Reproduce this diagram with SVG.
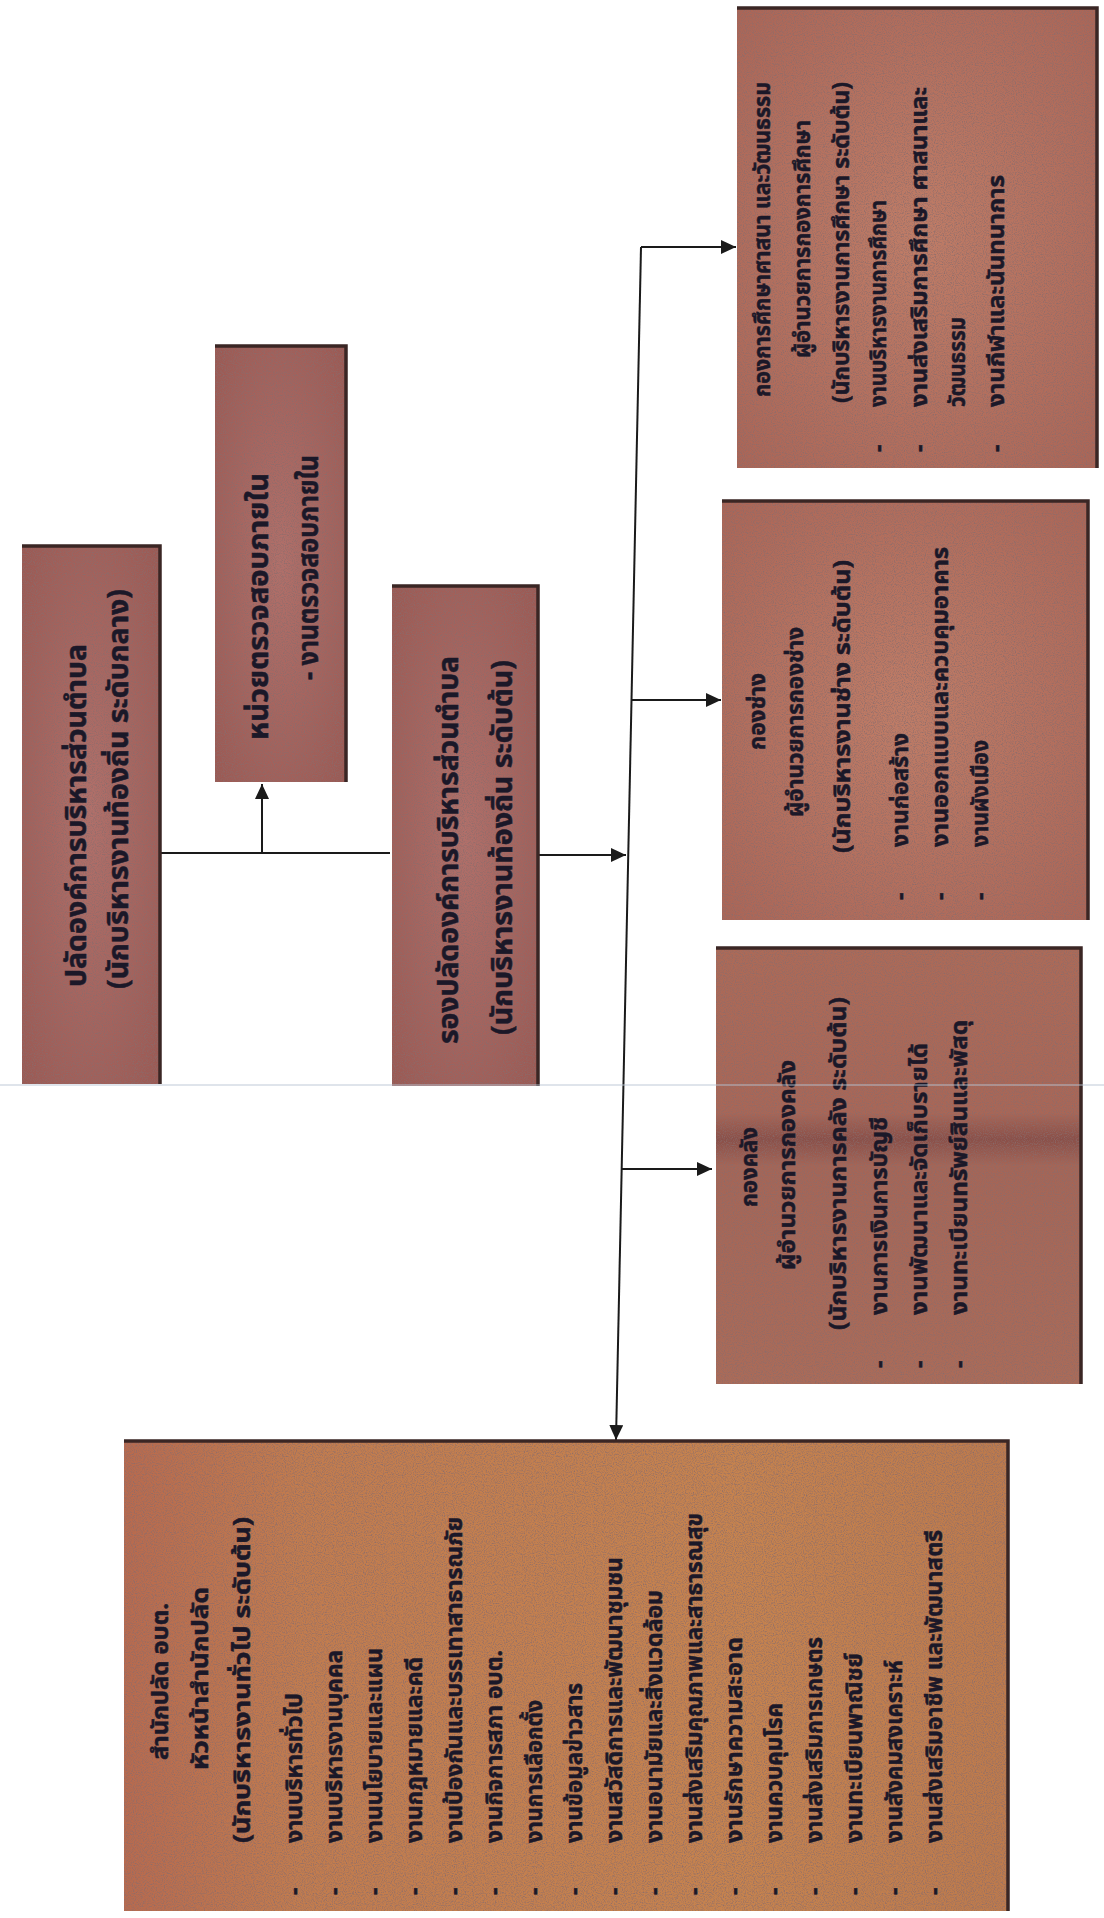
<svg xmlns="http://www.w3.org/2000/svg" width="1104" height="1918" viewBox="0 0 1104 1918">
<defs>
<style>
.t{font-family:'Noto Sans Thai','Noto Sans',sans-serif;font-weight:bold;fill:#1b1828;stroke:#1b1828;stroke-width:0.5}
.h{font-size:28px}
.s{font-size:23px}
.edge{stroke:#3a2624;stroke-width:3.5;fill:none}
.cn{stroke:#1a1a1a;stroke-width:2;fill:none}
</style>
<marker id="ah" markerUnits="userSpaceOnUse" markerWidth="15" markerHeight="14" refX="15" refY="7" orient="auto">
<path d="M0,0 L15,7 L0,14 z" fill="#1a1a1a"/>
</marker>
<filter id="grain" x="0" y="0" width="100%" height="100%">
<feTurbulence type="fractalNoise" baseFrequency="0.9" numOctaves="2" seed="3" result="n"/>
<feColorMatrix in="n" type="matrix" values="0 0 0 0 0.25  0 0 0 0 0.15  0 0 0 0 0.15  0 0 0 2 -0.85" result="m"/>
<feComposite in="m" in2="SourceGraphic" operator="in"/>
</filter>
<radialGradient id="gRed" cx="0.5" cy="0.5" r="0.7">
<stop offset="0" stop-color="#b1706a"/>
<stop offset="1" stop-color="#9b5953"/>
</radialGradient>
<radialGradient id="gSal" cx="0.5" cy="0.5" r="0.7">
<stop offset="0" stop-color="#c07d67"/>
<stop offset="1" stop-color="#ab6556"/>
</radialGradient>
<linearGradient id="gLow" x1="0" y1="0" x2="0" y2="1">
<stop offset="0" stop-color="#ad6a57"/>
<stop offset="0.38" stop-color="#a96656"/>
<stop offset="0.44" stop-color="#8a4f48"/>
<stop offset="0.5" stop-color="#a56556"/>
<stop offset="1" stop-color="#ab6b58"/>
</linearGradient>
<linearGradient id="gBig" x1="0" y1="0" x2="1" y2="0">
<stop offset="0" stop-color="#b86a4e"/>
<stop offset="0.2" stop-color="#c27c4e"/>
<stop offset="0.7" stop-color="#c6834e"/>
<stop offset="1" stop-color="#bd7a4c"/>
</linearGradient>
</defs>
<rect width="1104" height="1918" fill="#ffffff"/>

<g id="connectors">
<path class="cn" d="M161,853 H390"/>
<path class="cn" d="M262,853 V784" marker-end="url(#ah)"/>
<path class="cn" d="M536,855 H626" marker-end="url(#ah)"/>
<path class="cn" d="M641,247 L616,1440" marker-end="url(#ah)"/>
<path class="cn" d="M641,247 H736" marker-end="url(#ah)"/>
<path class="cn" d="M632,700 H721" marker-end="url(#ah)"/>
<path class="cn" d="M622,1169 H712" marker-end="url(#ah)"/>
</g>

<g id="node-palad">
<rect x="22" y="545" width="138" height="539" fill="url(#gRed)"/>
<rect x="22" y="545" width="138" height="539" fill="#000" filter="url(#grain)"/>
<path class="edge" d="M22,546 H160 V1084"/>
<text class="t h" transform="translate(86,987) rotate(-90)" textLength="343" lengthAdjust="spacingAndGlyphs">ปลัดองค์การบริหารส่วนตำบล</text>
<text class="t h" transform="translate(128,989) rotate(-90)" textLength="400" lengthAdjust="spacingAndGlyphs">(นักบริหารงานท้องถิ่น ระดับกลาง)</text>
</g>

<g id="node-audit">
<rect x="215" y="345" width="131" height="437" fill="url(#gRed)"/>
<rect x="215" y="345" width="131" height="437" fill="#000" filter="url(#grain)"/>
<path class="edge" d="M215,346 H346 V782"/>
<text class="t h" transform="translate(268,740) rotate(-90)" textLength="267" lengthAdjust="spacingAndGlyphs">หน่วยตรวจสอบภายใน</text>
<text class="t h" transform="translate(318,680) rotate(-90)" textLength="225" lengthAdjust="spacingAndGlyphs">- งานตรวจสอบภายใน</text>
</g>

<g id="node-rongpalad">
<rect x="392" y="585" width="146" height="501" fill="url(#gRed)"/>
<rect x="392" y="585" width="146" height="501" fill="#000" filter="url(#grain)"/>
<path class="edge" d="M392,586 H538 V1086"/>
<text class="t h" transform="translate(458,1044) rotate(-90)" textLength="388" lengthAdjust="spacingAndGlyphs">รองปลัดองค์การบริหารส่วนตำบล</text>
<text class="t h" transform="translate(512,1035) rotate(-90)" textLength="375" lengthAdjust="spacingAndGlyphs">(นักบริหารงานท้องถิ่น ระดับต้น)</text>
</g>

<g id="node-education">
<rect x="737" y="7" width="360" height="461" fill="url(#gSal)"/>
<rect x="737" y="7" width="360" height="461" fill="#000" filter="url(#grain)"/>
<path class="edge" d="M737,8 H1097 V468"/>
<text class="t s" transform="translate(770,397) rotate(-90)" textLength="315" lengthAdjust="spacingAndGlyphs">กองการศึกษาศาสนา และวัฒนธรรม</text>
<text class="t s" transform="translate(810,358) rotate(-90)" textLength="238" lengthAdjust="spacingAndGlyphs">ผู้อำนวยการกองการศึกษา</text>
<text class="t s" transform="translate(849,403) rotate(-90)" textLength="321" lengthAdjust="spacingAndGlyphs">(นักบริหารงานการศึกษา ระดับต้น)</text>
<text class="t s" transform="translate(886,452) rotate(-90)">-</text>
<text class="t s" transform="translate(886,407) rotate(-90)" textLength="207" lengthAdjust="spacingAndGlyphs">งานบริหารงานการศึกษา</text>
<text class="t s" transform="translate(927,452) rotate(-90)">-</text>
<text class="t s" transform="translate(927,407) rotate(-90)" textLength="320" lengthAdjust="spacingAndGlyphs">งานส่งเสริมการศึกษา ศาสนาและ</text>
<text class="t s" transform="translate(965,407) rotate(-90)" textLength="90" lengthAdjust="spacingAndGlyphs">วัฒนธรรม</text>
<text class="t s" transform="translate(1004,452) rotate(-90)">-</text>
<text class="t s" transform="translate(1004,407) rotate(-90)" textLength="232" lengthAdjust="spacingAndGlyphs">งานกีฬาและนันทนาการ</text>
</g>

<g id="node-engineering">
<rect x="722" y="500" width="366" height="420" fill="url(#gSal)"/>
<rect x="722" y="500" width="366" height="420" fill="#000" filter="url(#grain)"/>
<path class="edge" d="M722,501 H1088 V920"/>
<text class="t s" transform="translate(765,750) rotate(-90)" textLength="77" lengthAdjust="spacingAndGlyphs">กองช่าง</text>
<text class="t s" transform="translate(803,817) rotate(-90)" textLength="190" lengthAdjust="spacingAndGlyphs">ผู้อำนวยการกองช่าง</text>
<text class="t s" transform="translate(850,853) rotate(-90)" textLength="293" lengthAdjust="spacingAndGlyphs">(นักบริหารงานช่าง ระดับต้น)</text>
<text class="t s" transform="translate(908,900) rotate(-90)">-</text>
<text class="t s" transform="translate(908,847) rotate(-90)" textLength="114" lengthAdjust="spacingAndGlyphs">งานก่อสร้าง</text>
<text class="t s" transform="translate(948,900) rotate(-90)">-</text>
<text class="t s" transform="translate(948,847) rotate(-90)" textLength="300" lengthAdjust="spacingAndGlyphs">งานออกแบบและควบคุมอาคาร</text>
<text class="t s" transform="translate(988,900) rotate(-90)">-</text>
<text class="t s" transform="translate(988,847) rotate(-90)" textLength="107" lengthAdjust="spacingAndGlyphs">งานผังเมือง</text>
</g>

<g id="node-finance">
<rect x="716" y="947" width="365" height="437" fill="url(#gLow)"/>
<rect x="716" y="947" width="365" height="437" fill="#000" filter="url(#grain)"/>
<path class="edge" d="M716,948 H1081 V1384"/>
<text class="t s" transform="translate(757,1207) rotate(-90)" textLength="80" lengthAdjust="spacingAndGlyphs">กองคลัง</text>
<text class="t s" transform="translate(795,1270) rotate(-90)" textLength="210" lengthAdjust="spacingAndGlyphs">ผู้อำนวยการกองคลัง</text>
<text class="t s" transform="translate(846,1330) rotate(-90)" textLength="333" lengthAdjust="spacingAndGlyphs">(นักบริหารงานการคลัง ระดับต้น)</text>
<text class="t s" transform="translate(887,1368) rotate(-90)">-</text>
<text class="t s" transform="translate(887,1315) rotate(-90)" textLength="198" lengthAdjust="spacingAndGlyphs">งานการเงินการบัญชี</text>
<text class="t s" transform="translate(927,1368) rotate(-90)">-</text>
<text class="t s" transform="translate(927,1315) rotate(-90)" textLength="272" lengthAdjust="spacingAndGlyphs">งานพัฒนาและจัดเก็บรายได้</text>
<text class="t s" transform="translate(967,1368) rotate(-90)">-</text>
<text class="t s" transform="translate(967,1315) rotate(-90)" textLength="295" lengthAdjust="spacingAndGlyphs">งานทะเบียนทรัพย์สินและพัสดุ</text>
</g>

<g id="node-office">
<rect x="124" y="1440" width="884" height="471" fill="url(#gBig)"/>
<rect x="124" y="1440" width="884" height="471" fill="#000" filter="url(#grain)"/>
<path class="edge" d="M124,1441 H1008 V1911"/>
<text class="t s" transform="translate(168,1760) rotate(-90)" textLength="157" lengthAdjust="spacingAndGlyphs">สำนักปลัด อบต.</text>
<text class="t s" transform="translate(208,1770) rotate(-90)" textLength="183" lengthAdjust="spacingAndGlyphs">หัวหน้าสำนักปลัด</text>
<text class="t s" transform="translate(250,1843) rotate(-90)" textLength="326" lengthAdjust="spacingAndGlyphs">(นักบริหารงานทั่วไป ระดับต้น)</text>
<g>
<text class="t s" transform="translate(302,1895) rotate(-90)">-</text>
<text class="t s" transform="translate(302,1843) rotate(-90)" textLength="150" lengthAdjust="spacingAndGlyphs">งานบริหารทั่วไป</text>
<text class="t s" transform="translate(342,1895) rotate(-90)">-</text>
<text class="t s" transform="translate(342,1843) rotate(-90)" textLength="193" lengthAdjust="spacingAndGlyphs">งานบริหารงานบุคคล</text>
<text class="t s" transform="translate(382,1895) rotate(-90)">-</text>
<text class="t s" transform="translate(382,1843) rotate(-90)" textLength="195" lengthAdjust="spacingAndGlyphs">งานนโยบายและแผน</text>
<text class="t s" transform="translate(422,1895) rotate(-90)">-</text>
<text class="t s" transform="translate(422,1843) rotate(-90)" textLength="186" lengthAdjust="spacingAndGlyphs">งานกฎหมายและคดี</text>
<text class="t s" transform="translate(462,1895) rotate(-90)">-</text>
<text class="t s" transform="translate(462,1843) rotate(-90)" textLength="326" lengthAdjust="spacingAndGlyphs">งานป้องกันและบรรเทาสาธารณภัย</text>
<text class="t s" transform="translate(502,1895) rotate(-90)">-</text>
<text class="t s" transform="translate(502,1843) rotate(-90)" textLength="193" lengthAdjust="spacingAndGlyphs">งานกิจการสภา อบต.</text>
<text class="t s" transform="translate(542,1895) rotate(-90)">-</text>
<text class="t s" transform="translate(542,1843) rotate(-90)" textLength="143" lengthAdjust="spacingAndGlyphs">งานการเลือกตั้ง</text>
<text class="t s" transform="translate(582,1895) rotate(-90)">-</text>
<text class="t s" transform="translate(582,1843) rotate(-90)" textLength="160" lengthAdjust="spacingAndGlyphs">งานข้อมูลข่าวสาร</text>
<text class="t s" transform="translate(622,1895) rotate(-90)">-</text>
<text class="t s" transform="translate(622,1843) rotate(-90)" textLength="286" lengthAdjust="spacingAndGlyphs">งานสวัสดิการและพัฒนาชุมชน</text>
<text class="t s" transform="translate(662,1895) rotate(-90)">-</text>
<text class="t s" transform="translate(662,1843) rotate(-90)" textLength="253" lengthAdjust="spacingAndGlyphs">งานอนามัยและสิ่งแวดล้อม</text>
<text class="t s" transform="translate(702,1895) rotate(-90)">-</text>
<text class="t s" transform="translate(702,1843) rotate(-90)" textLength="330" lengthAdjust="spacingAndGlyphs">งานส่งเสริมคุณภาพและสาธารณสุข</text>
<text class="t s" transform="translate(742,1895) rotate(-90)">-</text>
<text class="t s" transform="translate(742,1843) rotate(-90)" textLength="206" lengthAdjust="spacingAndGlyphs">งานรักษาความสะอาด</text>
<text class="t s" transform="translate(782,1895) rotate(-90)">-</text>
<text class="t s" transform="translate(782,1843) rotate(-90)" textLength="140" lengthAdjust="spacingAndGlyphs">งานควบคุมโรค</text>
<text class="t s" transform="translate(822,1895) rotate(-90)">-</text>
<text class="t s" transform="translate(822,1843) rotate(-90)" textLength="206" lengthAdjust="spacingAndGlyphs">งานส่งเสริมการเกษตร</text>
<text class="t s" transform="translate(862,1895) rotate(-90)">-</text>
<text class="t s" transform="translate(862,1843) rotate(-90)" textLength="190" lengthAdjust="spacingAndGlyphs">งานทะเบียนพาณิชย์</text>
<text class="t s" transform="translate(902,1895) rotate(-90)">-</text>
<text class="t s" transform="translate(902,1843) rotate(-90)" textLength="183" lengthAdjust="spacingAndGlyphs">งานสังคมสงเคราะห์</text>
<text class="t s" transform="translate(942,1895) rotate(-90)">-</text>
<text class="t s" transform="translate(942,1843) rotate(-90)" textLength="313" lengthAdjust="spacingAndGlyphs">งานส่งเสริมอาชีพ และพัฒนาสตรี</text>
</g>
</g>

<line x1="0" y1="1085" x2="1104" y2="1085" stroke="#b9c4d3" stroke-width="1.5" opacity="0.6"/>
</svg>
